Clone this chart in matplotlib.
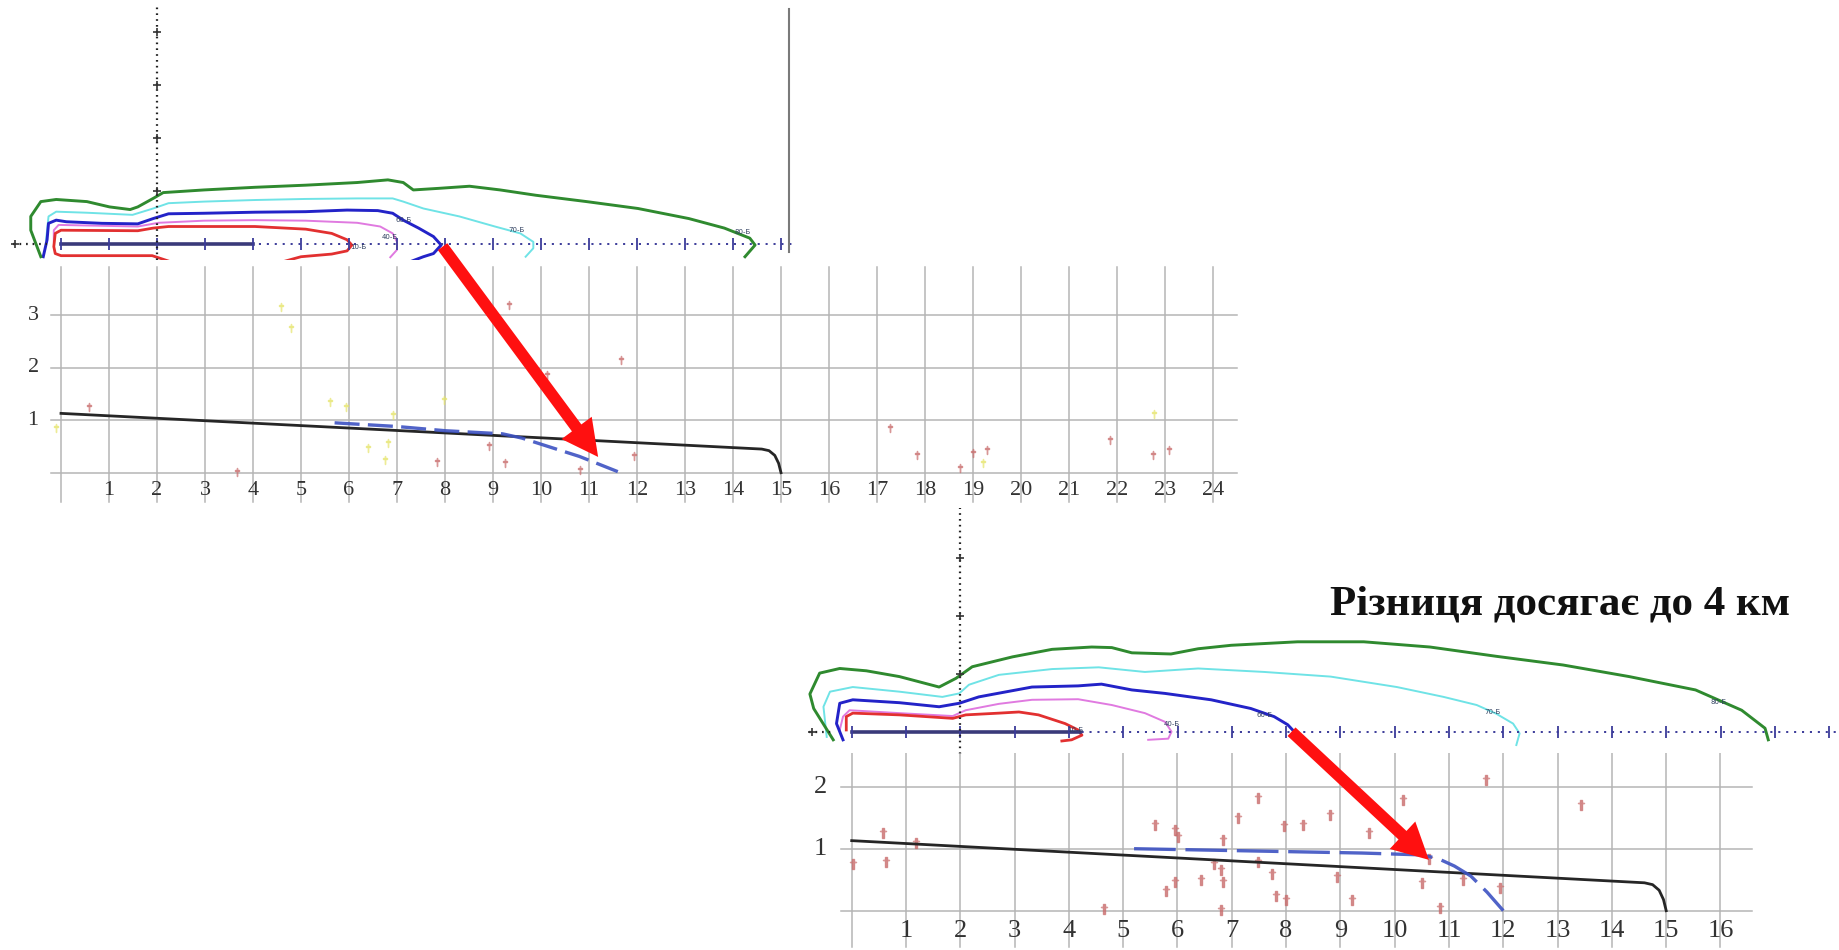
import numpy as np
import matplotlib
matplotlib.use("Agg")
import matplotlib.pyplot as plt
from matplotlib.patches import ConnectionPatch

plt.rcParams['lines.scale_dashes'] = False
plt.rcParams['font.family'] = ['Liberation Serif', 'DejaVu Serif']

W, H = 1840, 950

# ---- isolines, upper map (x in km along the route, v above the route axis)
top_green_x = [-0.42, -0.63, -0.63, -0.42, -0.1, 0.54, 1.01, 1.44, 1.6, 1.92, 2.13, 2.98, 4.04, 5.1, 6.17,
               6.81, 7.13, 7.34, 7.87, 8.51, 9.15, 9.89, 10.95, 12.02, 13.08, 13.82, 14.35, 14.46, 14.25]
top_green_y = [-0.24, 0.26, 0.52, 0.8, 0.84, 0.8, 0.7, 0.65, 0.7, 0.86, 0.97, 1.02, 1.07, 1.11, 1.16,
               1.21, 1.16, 1.02, 1.05, 1.09, 1.02, 0.92, 0.8, 0.67, 0.48, 0.3, 0.11, -0.02, -0.24]
top_cyan_x = [-0.31, -0.26, -0.1, 0.54, 1.49, 1.92, 2.24, 2.98, 4.04, 5.1, 6.17, 6.91, 7.13, 7.55, 8.3,
              9.04, 9.57, 9.84, 9.84, 9.68]
top_cyan_y = [0.08, 0.52, 0.61, 0.59, 0.55, 0.67, 0.77, 0.8, 0.83, 0.85, 0.86, 0.86, 0.8, 0.67, 0.52,
              0.33, 0.2, 0.04, -0.08, -0.24]
top_blue_x = [-0.37, -0.29, -0.26, -0.1, 0.11, 0.85, 1.6, 1.92, 2.24, 2.98, 4.04, 5.1, 5.96, 6.6, 6.91,
              7.13, 7.45, 7.76, 7.92, 7.76, 7.55, 7.2]
top_blue_y = [-0.24, 0.08, 0.39, 0.45, 0.42, 0.39, 0.38, 0.48, 0.57, 0.58, 0.6, 0.61, 0.64, 0.63, 0.58,
              0.45, 0.3, 0.14, -0.02, -0.18, -0.24, -0.36]
top_magenta_x = [-0.15, -0.15, -0.05, 1.6, 2.03, 2.98, 4.04, 5.1, 6.17, 6.65, 6.91, 7.0, 7.0, 6.86]
top_magenta_y = [0.05, 0.26, 0.36, 0.33, 0.4, 0.44, 0.45, 0.44, 0.4, 0.33, 0.2, 0.04, -0.11, -0.25]
top_red_x = [2.3, 1.9, 0.0, -0.12, -0.15, -0.12, 0.0, 1.6, 1.92, 2.24, 4.04, 5.1, 5.64, 5.96, 6.06,
             5.96, 5.64, 5.0, 4.6]
top_red_y = [-0.34, -0.22, -0.22, -0.18, -0.05, 0.2, 0.26, 0.25, 0.3, 0.33, 0.33, 0.28, 0.2, 0.08, -0.02,
             -0.13, -0.19, -0.24, -0.34]

# ---- isolines, lower map
bot_green_x = [-0.34, -0.5, -0.7, -0.77, -0.59, -0.22, 0.27, 0.88, 1.61, 1.92, 2.22, 2.96, 3.69, 4.42,
               4.79, 5.16, 5.88, 6.38, 6.99, 8.21, 9.43, 10.65, 11.87, 13.1, 14.32, 15.54, 16.39, 16.82, 16.88]
bot_green_y = [-0.14, 0.1, 0.4, 0.65, 1.01, 1.09, 1.05, 0.95, 0.77, 0.92, 1.12, 1.29, 1.42, 1.46,
               1.45, 1.36, 1.34, 1.43, 1.49, 1.55, 1.55, 1.46, 1.3, 1.15, 0.95, 0.72, 0.37, 0.06, -0.14]
bot_cyan_x = [-0.46, -0.52, -0.4, 0.02, 0.88, 1.67, 1.98, 2.16, 2.71, 3.69, 4.55, 5.4, 6.38, 7.6, 8.82,
              10.04, 10.9, 11.51, 11.87, 12.18, 12.3, 12.24]
bot_cyan_y = [-0.09, 0.43, 0.69, 0.77, 0.69, 0.6, 0.66, 0.81, 0.98, 1.08, 1.11, 1.03, 1.09, 1.03, 0.95,
              0.77, 0.6, 0.46, 0.31, 0.14, -0.03, -0.23]
bot_blue_x = [-0.16, -0.28, -0.22, 0.02, 0.88, 1.61, 1.98, 2.34, 3.32, 4.17, 4.6, 5.16, 5.77, 6.62, 7.35,
              7.78, 8.03, 8.15]
bot_blue_y = [-0.14, 0.14, 0.49, 0.55, 0.5, 0.43, 0.49, 0.6, 0.77, 0.79, 0.82, 0.72, 0.66, 0.55, 0.4,
              0.26, 0.12, 0.0]
bot_magenta_x = [-0.22, -0.16, -0.04, 0.88, 1.86, 2.1, 2.71, 3.32, 4.17, 4.79, 5.4, 5.77, 5.89, 5.83, 5.46]
bot_magenta_y = [0.03, 0.26, 0.37, 0.32, 0.27, 0.37, 0.48, 0.55, 0.56, 0.46, 0.32, 0.17, 0.0, -0.12, -0.14]
bot_red_x = [-0.1, -0.1, 0.02, 0.88, 1.86, 2.1, 2.71, 3.08, 3.44, 3.93, 4.17, 4.24, 4.05, 3.87]
bot_red_y = [0.03, 0.26, 0.32, 0.29, 0.23, 0.29, 0.32, 0.34, 0.29, 0.14, 0.03, -0.06, -0.14, -0.16]

# isoline captions: (x, v, text)
top_captions = [(6.2, -0.05, '10-Б'), (6.85, 0.14, '40-Б'), (7.13, 0.45, '60-Б'),
                (9.49, 0.26, '70-Б'), (14.2, 0.23, '80-Б')]
bot_captions = [(4.11, 0.03, '10-Б'), (5.89, 0.14, '40-Б'), (7.6, 0.29, '60-Б'),
                (11.8, 0.34, '70-Б'), (15.96, 0.52, '80-Б')]

# ---- profiles (km vs value)
norm_x = [0.0, 14.6, 14.75, 14.87, 14.95, 15.0]
norm_y = [1.13, 0.45, 0.42, 0.33, 0.18, 0.0]
top_calc_x = [5.7, 7.0, 8.0, 9.2, 9.6, 10.25, 10.8, 11.6]
top_calc_y = [0.95, 0.88, 0.8, 0.74, 0.66, 0.47, 0.31, 0.02]
bot_calc_x = [5.2, 7.0, 9.4, 10.5, 10.8, 11.1, 11.4, 11.7, 12.0]
bot_calc_y = [1.0, 0.97, 0.93, 0.9, 0.84, 0.72, 0.56, 0.3, 0.0]

# measured points
top_pink_x = [0.59, 3.66, 9.33, 11.66, 10.12, 7.84, 8.91, 9.24, 10.82, 11.93,
              17.28, 17.84, 18.72, 19.0, 19.3, 21.85, 22.75, 23.09]
top_pink_y = [1.26, 0.02, 3.19, 2.15, 1.86, 0.21, 0.5, 0.18, 0.05, 0.31,
              0.85, 0.34, 0.09, 0.37, 0.43, 0.62, 0.34, 0.43]
top_yellow_x = [4.59, 4.8, 5.61, 5.93, 7.98, 6.91, 6.4, 6.82, 6.74, -0.1, 22.77, 19.2]
top_yellow_y = [3.16, 2.75, 1.35, 1.26, 1.38, 1.09, 0.47, 0.56, 0.25, 0.85, 1.12, 0.18]
bot_pink_x = [0.02, 0.58, 0.64, 1.19, 4.64, 5.58, 5.79, 5.95, 6.01, 5.95, 6.44, 6.83, 6.68, 6.8, 6.84,
              6.8, 7.11, 7.48, 7.48, 7.74, 7.82, 8.0, 7.96, 8.31, 8.8, 8.94, 9.22, 9.53, 10.16, 10.5,
              10.84, 11.26, 11.69, 11.94, 13.44, 10.63]
bot_pink_y = [0.76, 1.25, 0.79, 1.09, 0.02, 1.38, 0.31, 1.3, 1.19, 0.47, 0.5, 1.14, 0.76, 0.66, 0.47,
              0.01, 1.49, 1.81, 0.79, 0.6, 0.23, 0.17, 1.36, 1.38, 1.54, 0.55, 0.17, 1.25, 1.79, 0.44,
              0.04, 0.5, 2.11, 0.36, 1.71, 0.84]

top_xticks = list(range(1, 25))
top_yticks = [1, 2, 3]
bot_xticks = list(range(1, 17))
bot_yticks = [1, 2]

fig = plt.figure(figsize=(W / 100, H / 100), dpi=100)
fig.patch.set_facecolor('white')


def panel(org_x, org_y, sx, sy, xlim, ylim):
    # org_x/org_y: pixel position of the data origin, sx/sy: pixels per unit
    left = org_x + sx * xlim[0]
    right = org_x + sx * xlim[1]
    top = org_y - sy * ylim[1]
    bottom = org_y - sy * ylim[0]
    ax = fig.add_axes([left / W, 1 - bottom / H, (right - left) / W, (bottom - top) / H])
    ax.set_xlim(xlim)
    ax.set_ylim(ylim)
    ax.axis('off')
    return ax


def draw_map(ax, iso, captions, solid_end, tick_end, axis_end, left_start):
    green, cyan, blue, magenta, red = iso
    ax.plot(*cyan, color='#6fe3e6', lw=1.4)
    ax.plot(*magenta, color='#e07ae0', lw=1.4)
    ax.plot(*red, color='#e23030', lw=2.0)
    ax.plot(*blue, color='#2323c8', lw=2.1)
    ax.plot(*green, color='#2f8a2f', lw=2.1)
    # route axis
    ax.plot([left_start, -0.3], [0, 0], color='#222222', lw=1.6, ls=(0, (1.2, 3.5)))
    ax.plot([left_start + 0.05], [0], marker='+', color='#333333', ms=6, mew=1.2)
    ax.plot([0, axis_end], [0, 0], color='#3c3c9a', lw=1.4, ls=(0, (1.5, 4.2)))
    ax.plot([0, solid_end], [0, 0], color='#3a3a7a', lw=2.6)
    ticks = np.arange(0, tick_end + 1)
    ax.plot(ticks, np.zeros_like(ticks), ls='none', marker='|', ms=9, mew=1.3, color='#3c3c9a')
    for x, v, s in captions:
        ax.text(x, v, s, fontsize=5, color='#304060', family='DejaVu Sans', ha='center', va='center')


def draw_profile(ax, xticks, yticks, xmax, ymin, ymax, calc, dashes, lab_size):
    for x in [0] + xticks:
        ax.plot([x, x], [ymin, ymax], color='#b5b5b5', lw=1.1, zorder=1)
    for y in [0] + yticks:
        ax.plot([-0.2, xmax], [y, y], color='#b5b5b5', lw=1.1, zorder=1)
    for x in xticks:
        ax.text(x, -0.33, str(x), fontsize=lab_size, color='#333333', ha='center', va='center', zorder=3)
    for y in yticks:
        ax.text(-0.58, y, str(y), fontsize=lab_size, color='#333333', ha='center', va='center', zorder=3)
    ax.plot(norm_x, norm_y, color='#262626', lw=2.0, zorder=4)
    ax.plot(*calc, color='#3d52c2', lw=2.4, dashes=dashes, alpha=0.9, zorder=5)


# upper map and its profile
ax_tm = panel(61, 244, 48, 53, (-1.05, 15.5), (-0.3, 4.6))
draw_map(ax_tm, [(top_green_x, top_green_y), (top_cyan_x, top_cyan_y), (top_blue_x, top_blue_y),
                 (top_magenta_x, top_magenta_y), (top_red_x, top_red_y)],
         top_captions, 4.0, 15, 15.3, -1.0)
ax_tm.plot([2, 2], [-0.3, 4.5], color='#222222', lw=1.6, ls=(0, (1.2, 3.0)))
ax_tm.plot([2, 2, 2, 2], [1, 2, 3, 4], ls='none', marker='+', ms=6, mew=1.2, color='#333333')
ax_tm.plot([15.17, 15.17], [-0.15, 4.43], color='#7a7a7a', lw=1.5)

ax_tg = panel(61, 472.7, 48, 52.5, (-1.0, 24.7), (-0.6, 3.95))
draw_profile(ax_tg, top_xticks, top_yticks, 24.5, -0.55, 3.92, (top_calc_x, top_calc_y), (18, 6), 16)
ax_tg.plot(top_yellow_x, top_yellow_y, ls='none', marker=r'$\dagger$', ms=6, color='#e6e46a', alpha=0.7)
ax_tg.plot(top_pink_x, top_pink_y, ls='none', marker=r'$\dagger$', ms=6, color='#c86a6a', alpha=0.7)

# lower map and its profile
ax_bm = panel(851.7, 731.7, 54.3, 58, (-0.8, 18.2), (-0.38, 3.9))
draw_map(ax_bm, [(bot_green_x, bot_green_y), (bot_cyan_x, bot_cyan_y), (bot_blue_x, bot_blue_y),
                 (bot_magenta_x, bot_magenta_y), (bot_red_x, bot_red_y)],
         bot_captions, 4.2, 18, 18.2, -0.78)
ax_bm.plot([2, 2], [-0.38, 3.85], color='#222222', lw=1.6, ls=(0, (1.2, 3.0)))
ax_bm.plot([2, 2, 2], [1, 2, 3], ls='none', marker='+', ms=6, mew=1.2, color='#333333')

ax_bg = panel(851.7, 910.7, 54.3, 62, (-0.6, 16.8), (-0.65, 2.55))
draw_profile(ax_bg, bot_xticks, bot_yticks, 16.58, -0.58, 2.54, (bot_calc_x, bot_calc_y), (30, 7), 19)
ax_bg.plot(bot_pink_x, bot_pink_y, ls='none', marker=r'$\dagger$', ms=7, color='#c86a6a', alpha=0.7)

# arrows from the isoline edge down to the profile
arrow_kw = dict(arrowstyle='simple,head_length=1.3,head_width=1.35,tail_width=0.42',
                mutation_scale=20, color='#ff1010', lw=0, shrinkA=0, shrinkB=0, zorder=10)
fig.add_artist(ConnectionPatch(xyA=(7.95, -0.05), coordsA=ax_tm.transData,
                               xyB=(11.19, 0.3), coordsB=ax_tg.transData, **arrow_kw))
fig.add_artist(ConnectionPatch(xyA=(8.1, 0.0), coordsA=ax_bm.transData,
                               xyB=(10.63, 0.82), coordsB=ax_bg.transData, **arrow_kw))

fig.text(1330 / W, 1 - 614 / H, 'Різниця досягає до 4 км', fontsize=31, fontweight='bold',
         color='#111111', ha='left', va='baseline')

fig.savefig('out.png', dpi=100)
